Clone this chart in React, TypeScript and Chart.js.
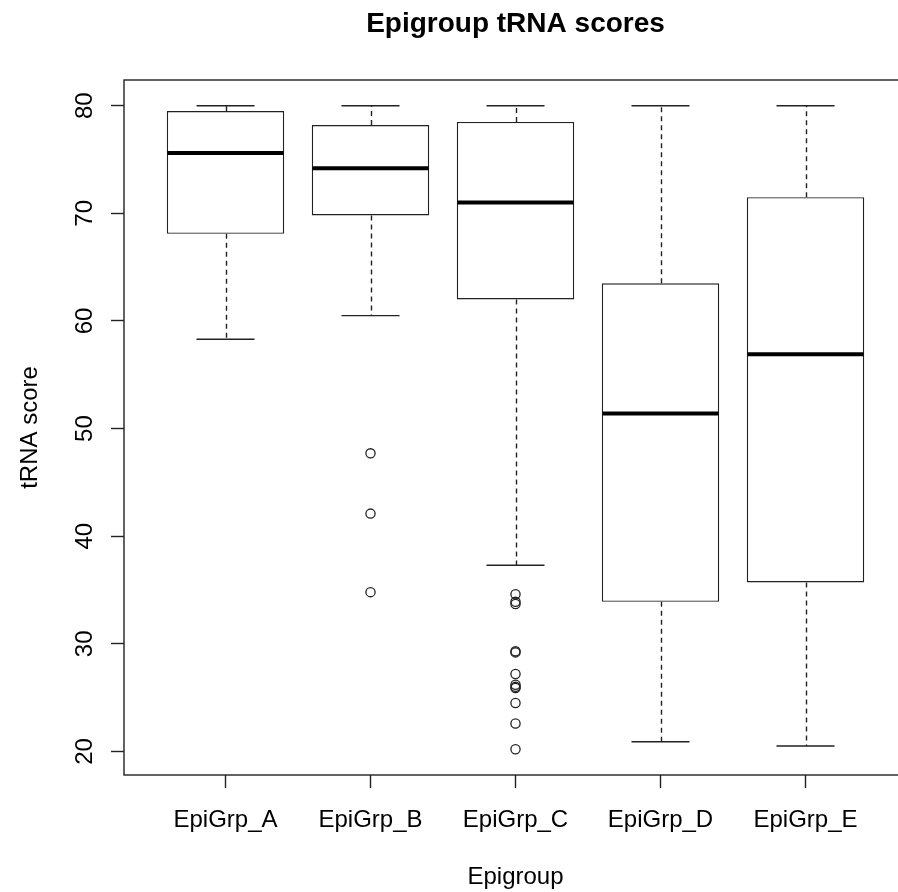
import React, { useEffect, useRef } from "react";
import { Chart, registerables } from "chart.js";

Chart.register(...registerables);

// ---------- data ----------
const TITLE = "Epigroup tRNA scores";
const X_LABEL = "Epigroup";
const Y_LABEL = "tRNA score";

const GROUPS = ["EpiGrp_A", "EpiGrp_B", "EpiGrp_C", "EpiGrp_D", "EpiGrp_E"];
const GROUP_POS = [1, 2, 3, 4, 5];

const WHISKER_LOW = [58.3, 60.5, 37.3, 20.9, 20.5];
const Q1 = [68.1, 69.8, 62.0, 33.9, 35.7];
const MEDIAN = [75.6, 74.2, 71.0, 51.4, 56.9];
const Q3 = [79.5, 78.2, 78.5, 63.5, 71.5];
const WHISKER_HIGH = [80.0, 80.0, 80.0, 80.0, 80.0];

const OUTLIER_GROUP = [2, 2, 2, 3, 3, 3, 3, 3, 3, 3, 3, 3, 3, 3, 3];
const OUTLIER_VALUE = [47.7, 42.1, 34.8, 34.6, 33.9, 33.7, 29.3, 29.2, 27.2, 26.2, 26.0, 25.9, 24.5, 22.6, 20.2];

const Y_TICKS = [20, 30, 40, 50, 60, 70, 80];

// ---------- styles ----------
const FONT = '"Liberation Sans", Arial, Helvetica, sans-serif';
const INK = "#000";
const LINE = "#222";
const BOX_WEX = 0.8;
const STAPLE_WEX = 0.5;

const allVals = [...WHISKER_LOW, ...WHISKER_HIGH, ...OUTLIER_VALUE];
const DATA_MIN = Math.min(...allVals);
const DATA_MAX = Math.max(...allVals);
const Y_MIN = DATA_MIN - 0.04 * (DATA_MAX - DATA_MIN);
const Y_MAX = DATA_MAX + 0.04 * (DATA_MAX - DATA_MIN);
const X_MIN = 0.5 - 0.04 * GROUPS.length;
const X_MAX = GROUPS.length + 0.5 + 0.04 * GROUPS.length;

const rPlot = {
  id: "rPlot",
  afterDatasetsDraw(chart: any) {
    const { ctx, scales } = chart;
    const x = scales.x;
    const y = scales.y;
    ctx.save();
    GROUP_POS.forEach((g, i) => {
      const cx = Math.round(x.getPixelForValue(g)) + 0.5;
      const sL = x.getPixelForValue(g - (BOX_WEX * STAPLE_WEX) / 2);
      const sR = x.getPixelForValue(g + (BOX_WEX * STAPLE_WEX) / 2);
      const bL = x.getPixelForValue(g - BOX_WEX / 2);
      const bR = x.getPixelForValue(g + BOX_WEX / 2);
      const yQ1 = y.getPixelForValue(Q1[i]);
      const yQ3 = y.getPixelForValue(Q3[i]);
      const yLo = y.getPixelForValue(WHISKER_LOW[i]);
      const yHi = y.getPixelForValue(WHISKER_HIGH[i]);
      const yMed = y.getPixelForValue(MEDIAN[i]);

      ctx.strokeStyle = LINE;
      ctx.lineWidth = 1.4;
      ctx.setLineDash([5, 4]);
      ctx.beginPath();
      ctx.moveTo(cx, yQ3);
      ctx.lineTo(cx, yHi);
      ctx.moveTo(cx, yQ1);
      ctx.lineTo(cx, yLo);
      ctx.stroke();

      ctx.setLineDash([]);
      ctx.beginPath();
      ctx.moveTo(sL, yHi);
      ctx.lineTo(sR, yHi);
      ctx.moveTo(sL, yLo);
      ctx.lineTo(sR, yLo);
      ctx.stroke();

      ctx.strokeStyle = INK;
      ctx.lineWidth = 4;
      ctx.beginPath();
      ctx.moveTo(bL, yMed);
      ctx.lineTo(bR, yMed);
      ctx.stroke();
    });
    ctx.restore();
  },
  afterDraw(chart: any) {
    const { ctx, chartArea: a, scales } = chart;
    const x = scales.x;
    const y = scales.y;
    ctx.save();
    // frame
    ctx.strokeStyle = LINE;
    ctx.lineWidth = 1.4;
    ctx.strokeRect(a.left, a.top, a.right - a.left, a.bottom - a.top);

    ctx.fillStyle = INK;
    // title
    ctx.font = `bold 28px ${FONT}`;
    ctx.textAlign = "center";
    ctx.textBaseline = "alphabetic";
    ctx.fillText(TITLE, (a.left + a.right) / 2, 32);

    // x tick labels
    ctx.font = `24px ${FONT}`;
    GROUP_POS.forEach((g, i) => {
      ctx.fillText(GROUPS[i], x.getPixelForValue(g), 827);
    });
    // x label
    ctx.fillText(X_LABEL, (a.left + a.right) / 2, 884);

    // y tick labels (rotated)
    y.ticks.forEach((t: any) => {
      ctx.save();
      ctx.translate(92, y.getPixelForValue(t.value));
      ctx.rotate(-Math.PI / 2);
      ctx.fillText(String(t.value), 0, 0);
      ctx.restore();
    });
    // y label
    ctx.save();
    ctx.translate(37, (a.top + a.bottom) / 2);
    ctx.rotate(-Math.PI / 2);
    ctx.fillText(Y_LABEL, 0, 0);
    ctx.restore();
    ctx.restore();
  },
};

export default function App() {
  const ref = useRef<HTMLCanvasElement | null>(null);

  useEffect(() => {
    if (!ref.current) return;
    const boxData = GROUP_POS.map((g, i) => ({ x: g, y: [Q1[i], Q3[i]] }));
    const outData = OUTLIER_GROUP.map((g, i) => ({ x: g, y: OUTLIER_VALUE[i] }));
    const chart = new Chart(ref.current, {
      type: "bar",
      data: {
        datasets: [
          {
            type: "bar",
            data: boxData as any,
            backgroundColor: "#fff",
            borderColor: LINE,
            borderWidth: 1.4,
            borderSkipped: false,
            barPercentage: 0.81,
            categoryPercentage: 1,
          },
          {
            type: "scatter",
            data: outData as any,
            pointStyle: "circle",
            pointRadius: 4.6,
            pointBorderWidth: 1.3,
            pointBorderColor: LINE,
            pointBackgroundColor: "rgba(0,0,0,0)",
            showLine: false,
          } as any,
        ],
      },
      options: {
        responsive: false,
        animation: false,
        devicePixelRatio: 1,
        layout: { autoPadding: false, padding: { top: 80, left: 0, right: 0, bottom: 0 } },
        plugins: { legend: { display: false }, tooltip: { enabled: false }, title: { display: false } },
        scales: {
          x: {
            type: "linear",
            min: X_MIN,
            max: X_MAX,
            offset: false,
            afterBuildTicks: (s: any) => {
              s.ticks = GROUP_POS.map((v) => ({ value: v }));
            },
            afterFit: (s: any) => {
              s.height = 117;
              s.paddingLeft = 0;
              s.paddingRight = 0;
            },
            ticks: { display: false },
            grid: {
              offset: false,
              drawOnChartArea: false,
              drawTicks: true,
              tickLength: 13,
              tickWidth: 1.4,
              tickColor: LINE,
            },
            border: { display: false },
          },
          y: {
            type: "linear",
            min: Y_MIN,
            max: Y_MAX,
            beginAtZero: false,
            afterBuildTicks: (s: any) => {
              s.ticks = Y_TICKS.map((v) => ({ value: v }));
            },
            afterFit: (s: any) => {
              s.width = 124;
              s.paddingTop = 0;
              s.paddingBottom = 0;
            },
            ticks: { display: false },
            grid: {
              offset: false,
              drawOnChartArea: false,
              drawTicks: true,
              tickLength: 13,
              tickWidth: 1.4,
              tickColor: LINE,
            },
            border: { display: false },
          },
        },
      },
      plugins: [rPlot],
    } as any);
    return () => chart.destroy();
  }, []);

  return (
    <div
      style={{
        position: "absolute",
        left: 0,
        top: 0,
        width: 898,
        height: 892,
        overflow: "hidden",
        background: "#fff",
      }}
    >
      <canvas ref={ref} width={907} height={892} style={{ display: "block", width: 907, height: 892 }} />
    </div>
  );
}
